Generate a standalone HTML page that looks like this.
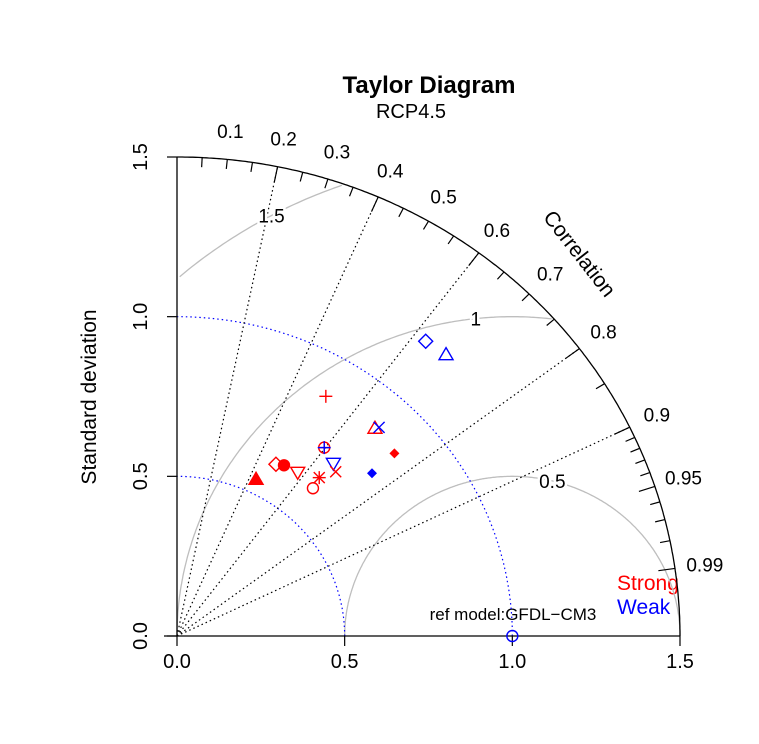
<!DOCTYPE html>
<html><head><meta charset="utf-8"><style>
html,body{margin:0;padding:0;background:#fff;}
svg{display:block;font-family:"Liberation Sans",Arial,sans-serif;}
</style></head><body>
<svg id="chart" width="759" height="744" viewBox="0 0 759 744" xmlns="http://www.w3.org/2000/svg">
<text x="429" y="93" text-anchor="middle" font-size="24" font-weight="bold">Taylor Diagram</text>
<text x="411" y="118" text-anchor="middle" font-size="20">RCP4.5</text>
<text transform="translate(96,397) rotate(-90)" text-anchor="middle" font-size="21">Standard deviation</text>
<text transform="translate(574,258) rotate(52)" text-anchor="middle" font-size="21">Correlation</text>
<text x="513" y="620" text-anchor="middle" font-size="17">ref model:GFDL−CM3</text>
<text x="617" y="590" font-size="21" fill="#ff0000">Strong</text>
<text x="617" y="614" font-size="21" fill="#0000ff">Weak</text>
<g id="g"></g>
</svg>
<script>
// ---- data ----
const refSD = 1.0;
const sdTicks = [0, 0.5, 1.0, 1.5];
const sdTickLabels = ["0.0", "0.5", "1.0", "1.5"];
const corLabels = [0.1,0.2,0.3,0.4,0.5,0.6,0.7,0.8,0.9,0.95,0.99];
const corLines = [0.2,0.4,0.6,0.8,0.9];
const longTicks = [0.2,0.4,0.6,0.8,0.9,0.95,0.99];
const rmsLevels = [0.5, 1.0, 1.5];
const rmsLabels = ["0.5", "1", "1.5"];
const modelSD  = [0.872,0.8785,0.8889,0.7354,0.7354,0.8645,0.6134,0.6226,0.7141,0.6991,0.6265,0.6526,0.7733,0.5444,0.6152,1.184,1.1916];
const modelCor = [0.509,0.672,0.678,0.597,0.597,0.750,0.481,0.5125,0.653,0.677,0.5746,0.650,0.752,0.433,0.659,0.6264,0.6733];
const modelGroup = ["strong","strong","weak","strong","weak","strong","strong","strong","weak","strong","strong","strong","weak","strong","strong","weak","weak"];
const modelShape = ["plus","tri","x","circplus","plus","fdiamond","diamond","fcircle","dtri","x","dtri","star","fdiamond","ftri","circle","diamond","tri"];

// ---- axes ----
const X0=177, Y0=636, SX=335.33, SY=319.33;
const px = x => X0 + x*SX;
const py = y => Y0 - y*SY;
const NS="http://www.w3.org/2000/svg";
const g=document.getElementById('g');
function el(tag, attrs, parent){const e=document.createElementNS(NS,tag);for(const k in attrs)e.setAttribute(k,attrs[k]);(parent||g).appendChild(e);return e;}
function polar(sd,cor){const a=Math.acos(cor);return [px(sd*Math.cos(a)),py(sd*Math.sin(a))];}

// RMS arcs (grey)
rmsLevels.forEach((r,i)=>{
  let pts=[];
  for(let k=0;k<=400;k++){const t=Math.PI*k/400;const x=refSD+r*Math.cos(t),y=r*Math.sin(t);
    if(Math.hypot(x,y)<=1.5 && x>=0) pts.push(px(x).toFixed(1)+","+py(y).toFixed(1));}
  const p=el('polyline',{points:pts.join(' '),fill:'none',stroke:'#bebebe','stroke-width':1.3});
  
  
});
// blue dotted sd arcs
[0.5, refSD].forEach(r=>{
  let pts=[];for(let k=0;k<=200;k++){const a=Math.PI/2*k/200;pts.push(px(r*Math.cos(a)).toFixed(1)+","+py(r*Math.sin(a)).toFixed(1));}
  const p=el('polyline',{points:pts.join(' '),fill:'none',stroke:'#0000ff','stroke-width':1.2,'stroke-dasharray':'1.5,3'});
  
  
});
// correlation lines
corLines.forEach(c=>{
  const [x,y]=polar(1.5,c);
  const l=el('line',{x1:X0,y1:Y0,x2:x,y2:y,stroke:'#000','stroke-width':1.2,'stroke-dasharray':'1.5,3'});
  
  
});
// rms labels
const rmsLabelAngles=[1.33,1.68,2.07];
rmsLevels.forEach((r,i)=>{
  const t=rmsLabelAngles[i];const x=refSD+r*Math.cos(t),y=r*Math.sin(t);
  const tx=el('text',{x:px(x),y:py(y)+7,'text-anchor':'middle','font-size':19,stroke:'#fff','stroke-width':5,'paint-order':'stroke'});
  tx.textContent=rmsLabels[i];
  
  
});
// outer arc
{let pts=[];for(let k=0;k<=300;k++){const a=Math.PI/2*k/300;pts.push(px(1.5*Math.cos(a)).toFixed(1)+","+py(1.5*Math.sin(a)).toFixed(1));}
const p=el('polyline',{points:pts.join(' '),fill:'none',stroke:'#000','stroke-width':1.3});

}
// correlation ticks
let tickVals=[];for(let v=0.05;v<0.9001;v+=0.05)tickVals.push(+v.toFixed(2));for(let v=0.91;v<0.9901;v+=0.01)tickVals.push(+v.toFixed(2));
tickVals.forEach(c=>{
  const long=longTicks.includes(c);const [x1,y1]=polar(1.5,c);const [x2,y2]=polar(long?1.45:1.47,c);
  const l=el('line',{x1:x1,y1:y1,x2:x2,y2:y2,stroke:'#000','stroke-width':1.2});
  
  
});
corLabels.forEach(c=>{
  const [x,y]=polar(1.59,c);
  const t=el('text',{x:x,y:y+7,'text-anchor':'middle','font-size':19});
  t.textContent=String(c);
  
  
});
// axes
{const a=el('line',{x1:X0,y1:py(1.5),x2:X0,y2:Y0,stroke:'#000','stroke-width':1.3});

const b=el('line',{x1:164,y1:Y0,x2:px(1.5),y2:Y0,stroke:'#000','stroke-width':1.3});
}
sdTicks.forEach((v,i)=>{
  let l=el('line',{x1:X0-10,y1:py(v),x2:X0,y2:py(v),stroke:'#000','stroke-width':1.2});
  
  let t=el('text',{transform:`translate(${X0-30},${py(v)}) rotate(-90)`,'text-anchor':'middle','font-size':20});
  t.textContent=sdTickLabels[i];
  
  l=el('line',{x1:px(v),y1:Y0,x2:px(v),y2:Y0+10,stroke:'#000','stroke-width':1.2});
  
  t=el('text',{x:px(v),y:Y0+32,'text-anchor':'middle','font-size':20});
  t.textContent=sdTickLabels[i];
  
});
// markers
function marker(shape,cx,cy,col){
  const s=5.5, sw=1.4, m=el('g',{});
  const line=(a,b,c,d)=>el('line',{x1:a,y1:b,x2:c,y2:d,stroke:col,'stroke-width':sw},m);
  if(shape==='plus'){line(cx-s-1,cy,cx+s+1,cy);line(cx,cy-s-1,cx,cy+s+1);}
  else if(shape==='x'){line(cx-s,cy-s,cx+s,cy+s);line(cx-s,cy+s,cx+s,cy-s);}
  else if(shape==='star'){line(cx-s,cy-s,cx+s,cy+s);line(cx-s,cy+s,cx+s,cy-s);line(cx-s-1,cy,cx+s+1,cy);line(cx,cy-s-1,cx,cy+s+1);}
  else if(shape==='circle'||shape==='fcircle'){el('circle',{cx:cx,cy:cy,r:s,fill:shape==='fcircle'?col:'none',stroke:col,'stroke-width':sw},m);}
  else if(shape==='circplus'){el('circle',{cx:cx,cy:cy,r:s,fill:'none',stroke:col,'stroke-width':sw},m);line(cx-s,cy,cx+s,cy);line(cx,cy-s,cx,cy+s);}
  else if(shape==='diamond'||shape==='fdiamond'){const d=shape==='fdiamond'?4:7;el('polygon',{points:`${cx},${cy-d} ${cx+d},${cy} ${cx},${cy+d} ${cx-d},${cy}`,fill:shape==='fdiamond'?col:'none',stroke:col,'stroke-width':sw},m);}
  else if(shape==='tri'||shape==='ftri'){el('polygon',{points:`${cx},${cy-7} ${cx+7},${cy+5} ${cx-7},${cy+5}`,fill:shape==='ftri'?col:'none',stroke:col,'stroke-width':sw},m);}
  else if(shape==='dtri'){el('polygon',{points:`${cx},${cy+7} ${cx+7},${cy-5} ${cx-7},${cy-5}`,fill:'none',stroke:col,'stroke-width':sw},m);}
  return m;
}
modelSD.forEach((sd,i)=>{
  const [x,y]=polar(sd,modelCor[i]);
  const m=marker(modelShape[i],x,y,modelGroup[i]==='strong'?'#ff0000':'#0000ff');
  
  
});
{const r=marker('circle',px(refSD),py(0),'#0000ff');

}
</script>
</body></html>
